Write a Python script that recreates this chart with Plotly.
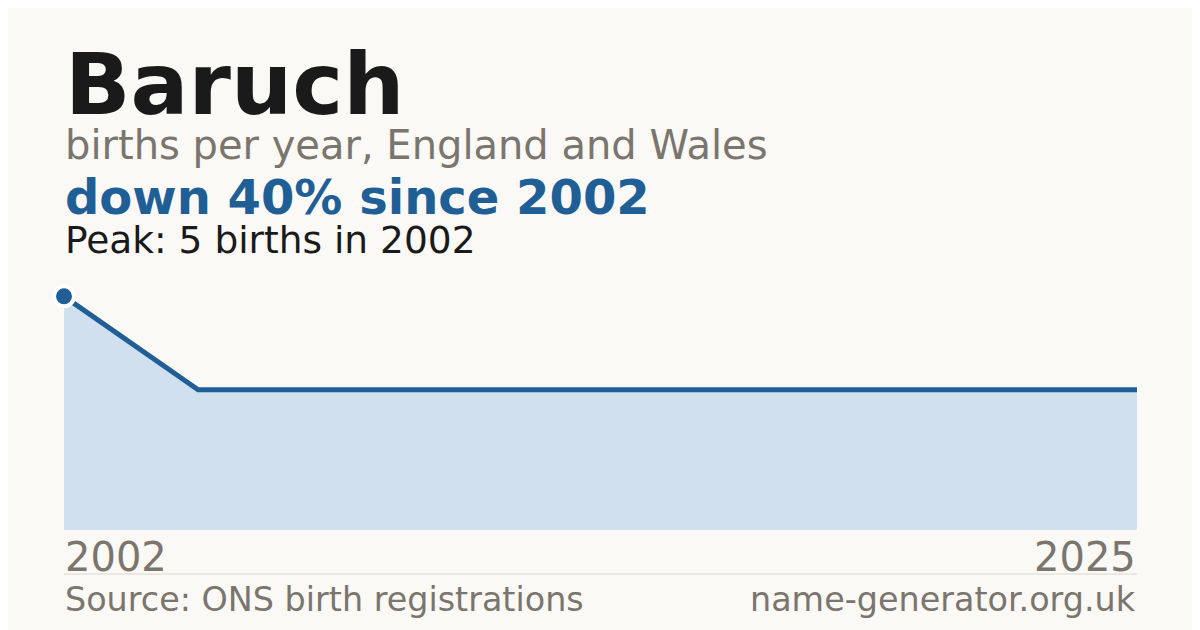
import plotly.graph_objects as go

# data (only years with recorded births, evenly spaced on the chart)
years = ["2002", "2005", "2008", "2011", "2014", "2017", "2020", "2023", "2025"]
births = [5, 3, 3, 3, 3, 3, 3, 3, 3]

name = "Baruch"
subtitle = "births per year, England and Wales"
headline = "down 40% since 2002"
peak_text = "Peak: 5 births in 2002"
source_text = "Source: ONS birth registrations"
site_text = "name-generator.org.uk"

BG = "#faf9f5"
BLUE = "#1f5f95"
FILL = "#d0e0ef"
GREY = "#7a756d"
INK = "#1a1a1a"
FONT = "DejaVu Sans"

# the page puts the figure 8px in from the top-left corner
OFF = 8
W, H = 1200, 630
L, R, T, B = 64 - OFF, 71, 273 - OFF, 108
plot_h = H - T - B


def py(pix):
    # screen pixel row -> paper y
    return (H - B - (pix - OFF)) / plot_h


fig = go.Figure()

fig.add_trace(go.Scatter(
    x=years, y=births,
    mode="lines",
    line=dict(color=BLUE, width=5),
    fill="tozeroy",
    fillcolor=FILL,
    hoverinfo="skip",
    showlegend=False,
))

# peak marker
fig.add_trace(go.Scatter(
    x=[years[0]], y=[births[0]],
    mode="markers",
    marker=dict(color=BLUE, size=20, line=dict(color="white", width=4)),
    cliponaxis=False,
    hoverinfo="skip",
    showlegend=False,
))

anns = [
    (name, 86, INK, "bold", 84, "left"),
    (subtitle, 40, GREY, "normal", 145, "left"),
    (headline, 48, BLUE, "bold", 197, "left"),
    (peak_text, 37.5, INK, "normal", 240, "left"),
    (years[0], 40, GREY, "normal", 557, "left"),
    (years[-1], 40, GREY, "normal", 557, "right"),
    (source_text, 33.4, GREY, "normal", 599, "left"),
    (site_text, 33.4, GREY, "normal", 599, "right"),
]
for txt, size, col, weight, ypix, side in anns:
    fig.add_annotation(
        text=txt,
        xref="paper", yref="paper",
        x=0 if side == "left" else 1,
        y=py(ypix),
        xanchor=side, yanchor="middle",
        showarrow=False,
        borderpad=0,
        font=dict(family=FONT, size=size, color=col, weight=weight),
    )

# separator line above the footer
fig.add_shape(type="line", xref="paper", yref="paper",
              x0=0, x1=1, y0=py(574), y1=py(574),
              line=dict(color="#dcd8d0", width=1))

fig.update_layout(
    width=W, height=H,
    margin=dict(l=L, r=R, t=T, b=B, pad=0),
    paper_bgcolor=BG,
    plot_bgcolor=BG,
    xaxis=dict(type="category", range=[0, len(years) - 1], visible=False,
               fixedrange=True),
    yaxis=dict(range=[0, 5.5], visible=False, fixedrange=True),
    font=dict(family=FONT),
)

fig.write_html("out.html", config={"displayModeBar": False})
